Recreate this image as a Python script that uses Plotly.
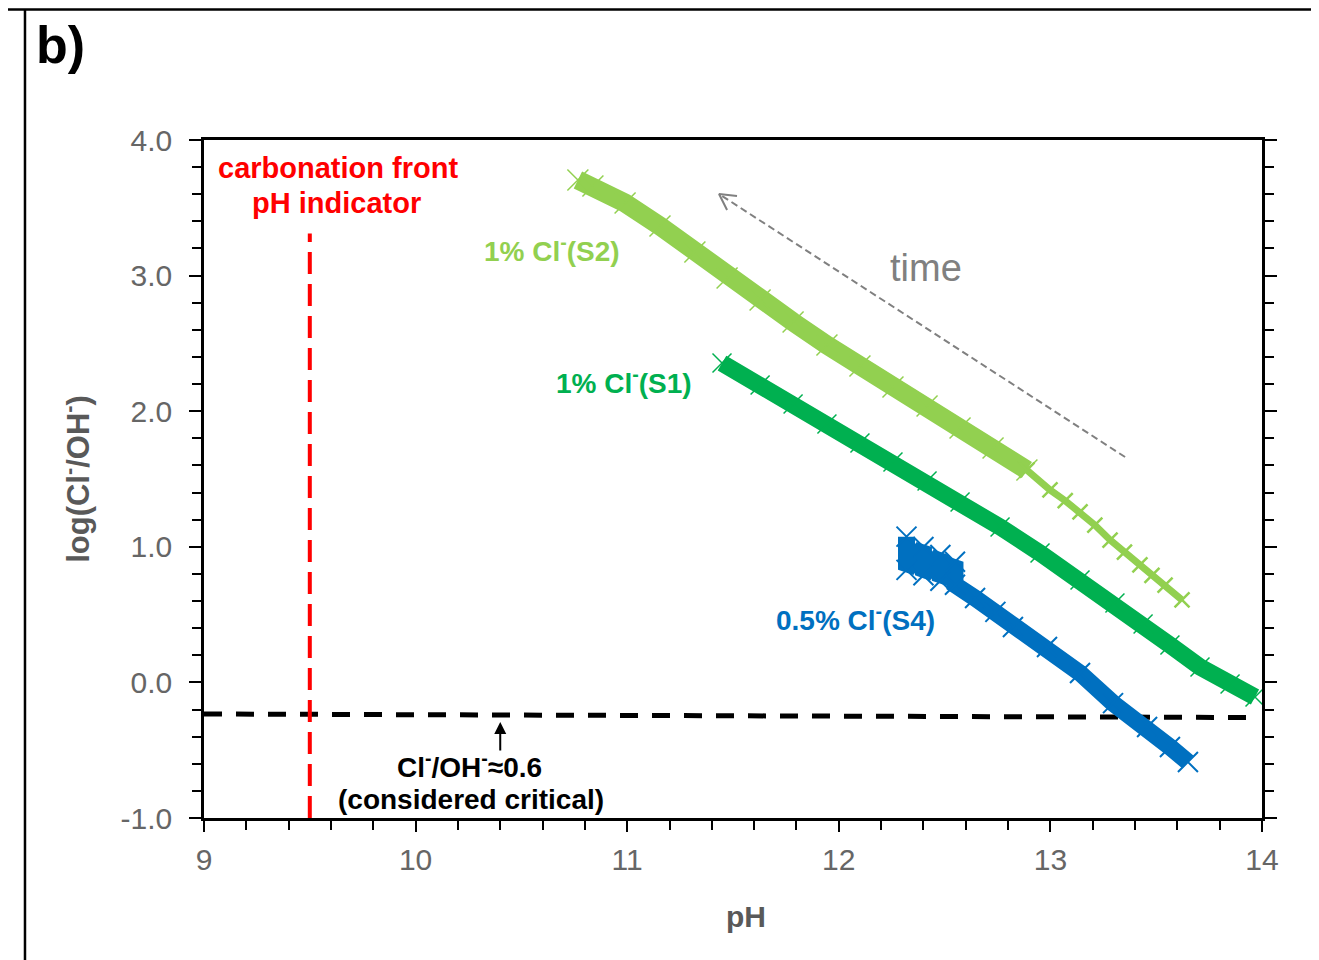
import plotly.graph_objects as go

# ---- data ----
s2_ph = [10.767, 10.838, 10.990, 11.155, 11.320, 11.472, 11.628, 11.784, 11.944, 12.100,
         12.256, 12.417, 12.573, 12.729, 12.889, 12.998, 13.070, 13.140, 13.210, 13.282,
         13.350, 13.423, 13.480, 13.542, 13.622]
s2_log = [3.705, 3.661, 3.535, 3.366, 3.174, 2.982, 2.820, 2.658, 2.488, 2.333,
          2.178, 2.038, 1.876, 1.729, 1.566, 1.419, 1.340, 1.257, 1.160, 1.050,
          0.960, 0.866, 0.790, 0.718, 0.608]

s1_ph = [11.448, 11.628, 11.784, 11.944, 12.100, 12.256, 12.417, 12.573, 12.762, 12.951,
         13.140, 13.305, 13.438, 13.565, 13.707, 13.849, 13.967]
s1_log = [2.355, 2.193, 2.053, 1.906, 1.765, 1.625, 1.485, 1.330, 1.146, 0.954,
          0.755, 0.586, 0.431, 0.276, 0.114, -0.012, -0.108]

s4_ph = [12.320, 12.320, 12.400, 12.400, 12.480, 12.480, 12.549, 12.549, 12.644, 12.740,
         12.823, 12.984, 13.140, 13.296, 13.457, 13.565, 13.650]
s4_log = [1.075, 0.830, 0.999, 0.790, 0.940, 0.750, 0.890, 0.720, 0.622, 0.520,
          0.409, 0.261, 0.069, -0.153, -0.329, -0.476, -0.587]

carb_front_ph = [9.5, 9.5]
carb_front_log = [-1.0, 3.31]

critical_ph = [9.0, 13.95]
critical_log = [-0.233, -0.259]

time_arrow_ph = [13.353, 11.434]
time_arrow_log = [1.662, 3.602]
time_head_ph = [11.519, 11.434, 11.472]
time_head_log = [3.587, 3.602, 3.484]

x_ticks = [9, 10, 11, 12, 13, 14]
y_ticks = [-1.0, 0.0, 1.0, 2.0, 3.0, 4.0]
y_tick_text = ["-1.0", "0.0", "1.0", "2.0", "3.0", "4.0"]

C_S2 = "#92D050"
C_S1 = "#00B050"
C_S4 = "#0070C0"
FONT = "Liberation Sans, Arial, Helvetica, sans-serif"
SPLIT = 14

fig = go.Figure()

# critical line and carbonation front
fig.add_trace(go.Scatter(x=critical_ph, y=critical_log, mode="lines",
                         line=dict(color="black", width=5, dash="18px,14px"),
                         showlegend=False, hoverinfo="skip"))
fig.add_trace(go.Scatter(x=carb_front_ph, y=carb_front_log, mode="lines",
                         line=dict(color="#FF0000", width=4, dash="22px,10px"),
                         showlegend=False, hoverinfo="skip"))

# time arrow
fig.add_trace(go.Scatter(x=time_arrow_ph, y=time_arrow_log, mode="lines",
                         line=dict(color="#808080", width=2, dash="7px,4px"),
                         showlegend=False, hoverinfo="skip"))
fig.add_trace(go.Scatter(x=time_head_ph, y=time_head_log, mode="lines",
                         line=dict(color="#808080", width=2),
                         showlegend=False, hoverinfo="skip"))

# S2 (thick part then thin part with crosses)
fig.add_trace(go.Scatter(x=s2_ph[:SPLIT + 1], y=s2_log[:SPLIT + 1], mode="lines+markers",
                         line=dict(color=C_S2, width=19),
                         marker=dict(symbol="x-thin", size=21, line=dict(color=C_S2, width=1.5)),
                         name="1% Cl- (S2)", showlegend=False))
fig.add_trace(go.Scatter(x=s2_ph[SPLIT:], y=s2_log[SPLIT:], mode="lines+markers",
                         line=dict(color=C_S2, width=7),
                         marker=dict(symbol="x-thin", size=15, line=dict(color=C_S2, width=2.5)),
                         name="1% Cl- (S2)", showlegend=False))
# S1
fig.add_trace(go.Scatter(x=s1_ph, y=s1_log, mode="lines+markers",
                         line=dict(color=C_S1, width=17),
                         marker=dict(symbol="x-thin", size=19, line=dict(color=C_S1, width=1.5)),
                         name="1% Cl- (S1)", showlegend=False))
# S4
fig.add_trace(go.Scatter(x=s4_ph, y=s4_log, mode="lines+markers",
                         line=dict(color=C_S4, width=17),
                         marker=dict(symbol="x-thin", size=20, line=dict(color=C_S4, width=2)),
                         name="0.5% Cl- (S4)", showlegend=False))


def txt(x, y, text, color, size=28, bold=True):
    return dict(x=x, y=y, xref="x", yref="y", text=(f"<b>{text}</b>" if bold else text),
                showarrow=False, xanchor="center", yanchor="middle",
                font=dict(family=FONT, size=size, color=color))


annotations = [
    txt(9.633, 3.794, "carbonation front", "#FF0000", size=29),
    txt(9.624, 3.535, "pH indicator", "#FF0000", size=29),
    txt(10.645, 3.196, "1% Cl<sup>-</sup>(S2)", C_S2),
    txt(10.985, 2.223, "1% Cl<sup>-</sup>(S1)", C_S1),
    txt(12.081, 0.475, "0.5% Cl<sup>-</sup>(S4)", C_S4),
    txt(12.412, 3.056, "time", "#808080", size=38, bold=False),
    txt(10.257, -0.609, "Cl<sup>-</sup>/OH<sup>-</sup>≈0.6", "black"),
    txt(10.262, -0.860, "(considered critical)", "black"),
    dict(x=10.40, y=-0.292, ax=10.40, ay=-0.513, xref="x", yref="y", axref="x", ayref="y",
         text="", showarrow=True, arrowhead=2, arrowsize=1.2, arrowwidth=2, arrowcolor="black"),
    dict(x=-0.1361, y=1.1401, xref="paper", yref="paper", text="<b>b)</b>", showarrow=False,
         font=dict(family=FONT, size=52, color="black"), xanchor="center", yanchor="middle"),
    dict(x=0.5123, y=-0.146, xref="paper", yref="paper", text="<b>pH</b>", showarrow=False,
         font=dict(family=FONT, size=30, color="#595959"), xanchor="center", yanchor="middle"),
]

shapes = [
    dict(type="line", xref="paper", yref="paper", x0=-0.1853, x1=1.06, y0=1.1925, y1=1.1925,
         line=dict(color="black", width=2.5)),
    dict(type="line", xref="paper", yref="paper", x0=-0.1692, x1=-0.1692, y0=1.1925, y1=-0.22,
         line=dict(color="black", width=2.5)),
]

axis_common = dict(showgrid=False, zeroline=False, showline=True, linecolor="black", linewidth=2.5,
                   ticks="outside", tickwidth=2, tickcolor="black",
                   tickfont=dict(family=FONT, size=30, color="#666666"))

fig.update_layout(
    width=1311, height=952,
    margin=dict(l=196, r=57, t=132, b=142),
    paper_bgcolor="white", plot_bgcolor="white",
    showlegend=False,
    annotations=annotations, shapes=shapes,
    xaxis=dict(range=[9, 14], tickvals=x_ticks, ticklen=11, mirror=True, ticklabelstandoff=2,
               minor=dict(dtick=0.2, ticks="outside", ticklen=9, tickwidth=2, tickcolor="black"),
               **axis_common),
    yaxis=dict(range=[-1, 4], tickvals=y_ticks, ticktext=y_tick_text, ticklen=12, mirror="ticks",
               ticklabelstandoff=11,
               minor=dict(dtick=0.2, ticks="outside", ticklen=9, tickwidth=2, tickcolor="black"),
               title=dict(text="<b>log(Cl<sup>-</sup>/OH<sup>-</sup>)</b>",
                          font=dict(family=FONT, size=31, color="#595959"), standoff=22),
               **axis_common),
)

fig.write_html("out.html")
